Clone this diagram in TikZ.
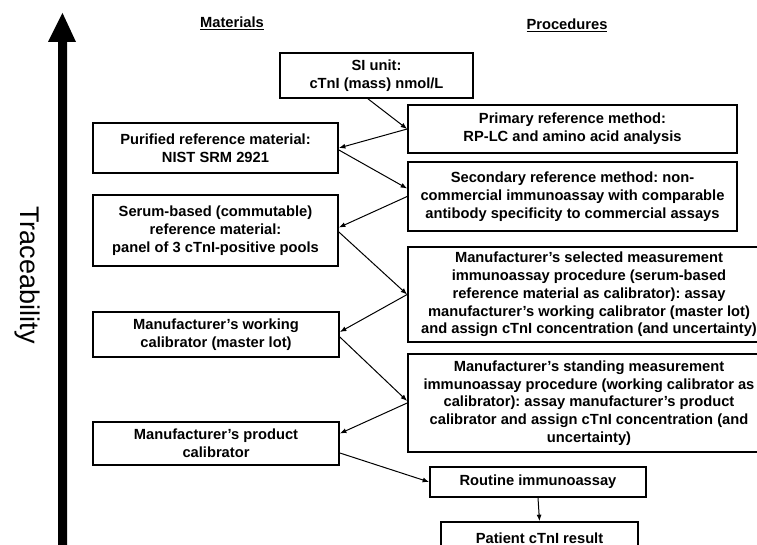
\documentclass[tikz,border=0pt]{standalone}
\usepackage{fontspec}
\setmainfont{Liberation Sans}
\usetikzlibrary{arrows.meta}
\frenchspacing
\tikzset{
  box/.style={draw, line width=1.7pt, inner sep=0pt, align=center,
    font=\bfseries\fontsize{14.7}{17.8}\selectfont},
  conn/.style={line width=1pt, -{Latex[length=6.5pt,width=5pt]}},
  heading/.style={font=\bfseries\fontsize{14.7}{17.8}\selectfont, inner sep=0pt},
}
\begin{document}
\begin{tikzpicture}[x=1pt,y=-1pt]
\useasboundingbox (0,0) rectangle (757,545);
\fill[white] (0,0) rectangle (757,545);
\clip (0,0) rectangle (757,545);

% big traceability arrow
\fill[black] (58,545) -- (58,42) -- (48,42) -- (62.5,13) -- (76,42) -- (67,42) -- (67,545) -- cycle;
\node[rotate=-90, font=\fontsize{27}{30}\selectfont, inner sep=0pt] (trace) at (27,275) {Traceability};

% headings
\node[heading] (hmat) at (232,23) {\underline{Materials}};
\node[heading] (hproc) at (567,25) {\underline{Procedures}};

% procedures
\node[box, minimum width=193pt, minimum height=45pt] (si) at (376.5,75.5) {SI unit:\\cTnI (mass) nmol/L};
\node[box, minimum width=329pt, minimum height=48pt] (prim) at (572.5,129) {Primary reference method:\\RP-LC and amino acid analysis};
\node[box, minimum width=329pt, minimum height=69pt] (sec) at (572.5,196.5) {Secondary reference method: non-\\commercial immunoassay with comparable\\antibody specificity to commercial assays};
\node[box, minimum width=362pt, minimum height=95pt] (sel) at (589,294.5) {Manufacturer’s selected measurement\\immunoassay procedure (serum-based\\reference material as calibrator): assay\\manufacturer’s working calibrator (master lot)\\and assign cTnI concentration (and uncertainty)};
\node[box, minimum width=362pt, minimum height=98pt] (stand) at (589,403) {Manufacturer’s standing measurement\\immunoassay procedure (working calibrator as\\calibrator): assay manufacturer’s product\\calibrator and assign cTnI concentration (and\\uncertainty)};
\node[box, minimum width=216pt, minimum height=30pt] (rout) at (538,482) {Routine immunoassay};
\node[box, minimum width=197pt, minimum height=32pt] (pat) at (539.5,538) {Patient cTnI result};

% materials
\node[box, minimum width=245pt, minimum height=50pt] (pur) at (215.5,148) {Purified reference material:\\NIST SRM 2921};
\node[box, minimum width=245pt, minimum height=71pt] (ser) at (215.5,230.5) {Serum-based (commutable)\\reference material:\\panel of 3 cTnI-positive pools};
\node[box, minimum width=246pt, minimum height=45pt] (work) at (216,334.5) {Manufacturer’s working\\calibrator (master lot)};
\node[box, minimum width=246pt, minimum height=43pt] (prod) at (216,443.5) {Manufacturer’s product\\calibrator};

% connectors
\draw[conn] ([xshift=-8.5pt]si.south) -- (prim.west);
\draw[conn] (prim.west) -- (pur.east);
\draw[conn] ([yshift=-2pt]pur.east) -- ([yshift=8pt]sec.west);
\draw[conn] (sec.west) -- ([yshift=3pt]ser.east);
\draw[conn] ([yshift=-1.5pt]ser.east) -- (sel.west);
\draw[conn] (sel.west) -- ([yshift=2.5pt]work.east);
\draw[conn] ([yshift=-2.5pt]work.east) -- ([yshift=2pt]stand.west);
\draw[conn] (stand.west) -- ([yshift=10pt]prod.east);
\draw[conn] ([yshift=-9.5pt]prod.east) -- (rout.west);
\draw[conn] (rout.south) -- (pat.north);
\end{tikzpicture}
\end{document}
